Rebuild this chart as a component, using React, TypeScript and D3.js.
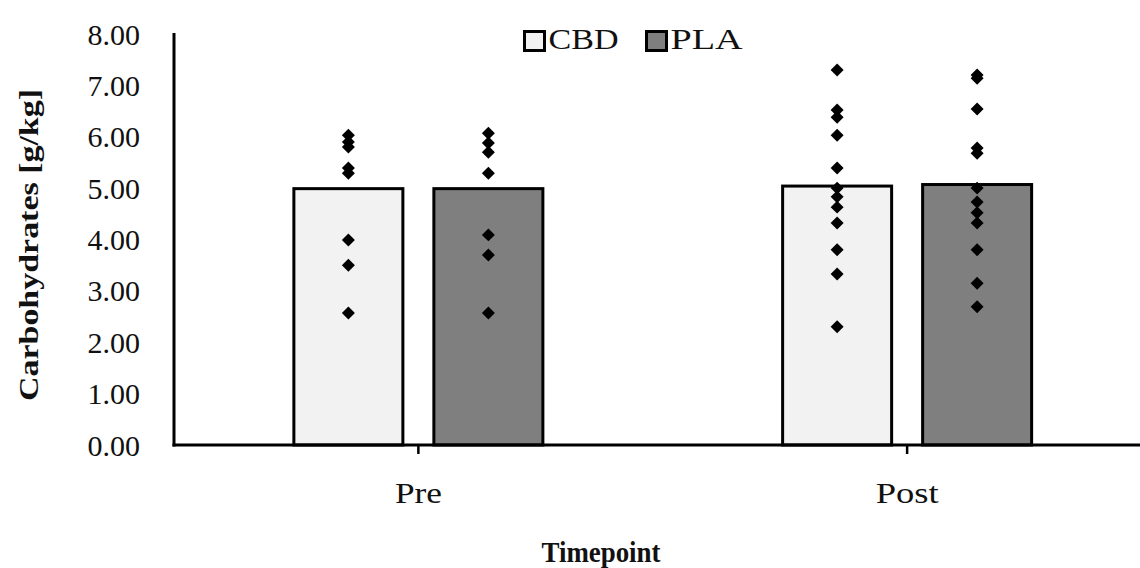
import React from "react";
import * as d3 from "d3";

// ---- data ----
const timepoints = ["Pre", "Post"];
const groups = ["CBD", "PLA"];
const cbdMeans = [4.99, 5.04];
const plaMeans = [4.99, 5.07];
const cbdPre = [6.03, 5.9, 5.8, 5.39, 5.29, 3.99, 3.5, 2.57];
const cbdPost = [7.3, 6.52, 6.38, 6.03, 5.39, 5.0, 4.83, 4.63, 4.32, 3.8, 3.33, 2.3];
const plaPre = [6.07, 5.88, 5.7, 5.29, 4.09, 3.7, 2.57];
const plaPost = [7.2, 7.14, 6.54, 5.78, 5.68, 5.0, 4.73, 4.52, 4.32, 3.8, 3.15, 2.69];
const yTicks = [0, 1, 2, 3, 4, 5, 6, 7, 8];
const groupFills = ["#f2f2f2", "#7f7f7f"];
const timepointLabelWidths = [47, 63];

const series = [
  { name: groups[0], means: cbdMeans, points: [cbdPre, cbdPost], fill: groupFills[0] },
  { name: groups[1], means: plaMeans, points: [plaPre, plaPost], fill: groupFills[1] },
];

const W = 1140;
const H = 568;
const FONT = "'Liberation Serif', 'Times New Roman', serif";

export default function App() {
  const x0 = d3.scaleBand<string>().domain(timepoints).range([174, 1151.5]).padding(0);
  const x1 = d3
    .scaleBand<string>()
    .domain(groups)
    .range([-124.5, 124.5])
    .paddingInner(0.2214)
    .paddingOuter(0);
  const y = d3.scaleLinear().domain([0, 8]).range([445, 34]);
  const diamond = d3.symbol().type(d3.symbolSquare).size(84)();
  const fmt = d3.format(".2f");

  return (
    <svg
      width={W}
      height={H}
      style={{ position: "absolute", left: 0, top: 0, background: "#fff" }}
      fontFamily={FONT}
    >
      <rect x={0} y={0} width={W} height={H} fill="#fff" />
      {/* bars */}
      {timepoints.map((t, ti) => {
        const cx = (x0(t) as number) + x0.bandwidth() / 2;
        return (
          <g key={t} transform={`translate(${cx},0)`}>
            {series.map((s) => (
              <rect
                key={s.name}
                x={x1(s.name) as number}
                width={x1.bandwidth()}
                y={y(s.means[ti])}
                height={y(0) - y(s.means[ti])}
                fill={s.fill}
                stroke="#000"
                strokeWidth={3}
              />
            ))}
          </g>
        );
      })}
      {/* points */}
      {timepoints.map((t, ti) => {
        const cx = (x0(t) as number) + x0.bandwidth() / 2;
        return (
          <g key={"p" + t} transform={`translate(${cx},0)`}>
            {series.map((s) =>
              s.points[ti].map((v, i) => (
                <path
                  key={s.name + i}
                  d={diamond as string}
                  fill="#000"
                  transform={`translate(${(x1(s.name) as number) + x1.bandwidth() / 2},${y(v)}) rotate(45)`}
                />
              ))
            )}
          </g>
        );
      })}
      {/* axes */}
      <line x1={174} x2={174} y1={y(8) - 1} y2={y(0) + 1.5} stroke="#000" strokeWidth={3} />
      <line x1={172.5} x2={1151.5} y1={y(0)} y2={y(0)} stroke="#000" strokeWidth={3} />
      {timepoints.map((t, ti) => {
        const cx = (x0(t) as number) + x0.bandwidth() / 2;
        return (
          <g key={"t" + t}>
            <line x1={cx} x2={cx} y1={y(0)} y2={y(0) + 9} stroke="#000" strokeWidth={2.5} />
            <text
              x={cx}
              y={503}
              textAnchor="middle"
              fontSize={30}
              fill="#111"
              textLength={timepointLabelWidths[ti]}
              lengthAdjust="spacingAndGlyphs"
            >
              {t}
            </text>
          </g>
        );
      })}
      {yTicks.map((v) => (
        <text key={v} x={140} y={y(v) + 10.5} textAnchor="end" fontSize={30} fill="#111">
          {fmt(v)}
        </text>
      ))}
      {/* axis titles */}
      <text
        x={601}
        y={562}
        textAnchor="middle"
        fontSize={30}
        fontWeight="bold"
        fill="#111"
        textLength={119}
        lengthAdjust="spacingAndGlyphs"
      >
        Timepoint
      </text>
      <text
        transform="translate(38,245) rotate(-90)"
        textAnchor="middle"
        fontSize={28}
        fontWeight="bold"
        fill="#111"
        textLength={312}
        lengthAdjust="spacingAndGlyphs"
      >
        Carbohydrates [g/kg]
      </text>
      {/* legend */}
      {series.map((s, i) => {
        const lx = i === 0 ? 524.5 : 646.5;
        return (
          <g key={"l" + s.name}>
            <rect x={lx} y={31.5} width={20} height={19} fill={s.fill} stroke="#000" strokeWidth={3} />
            <text
              x={lx + 24}
              y={49}
              fontSize={30}
              fill="#111"
              textLength={i === 0 ? 70 : 72}
              lengthAdjust="spacingAndGlyphs"
            >
              {s.name}
            </text>
          </g>
        );
      })}
    </svg>
  );
}
